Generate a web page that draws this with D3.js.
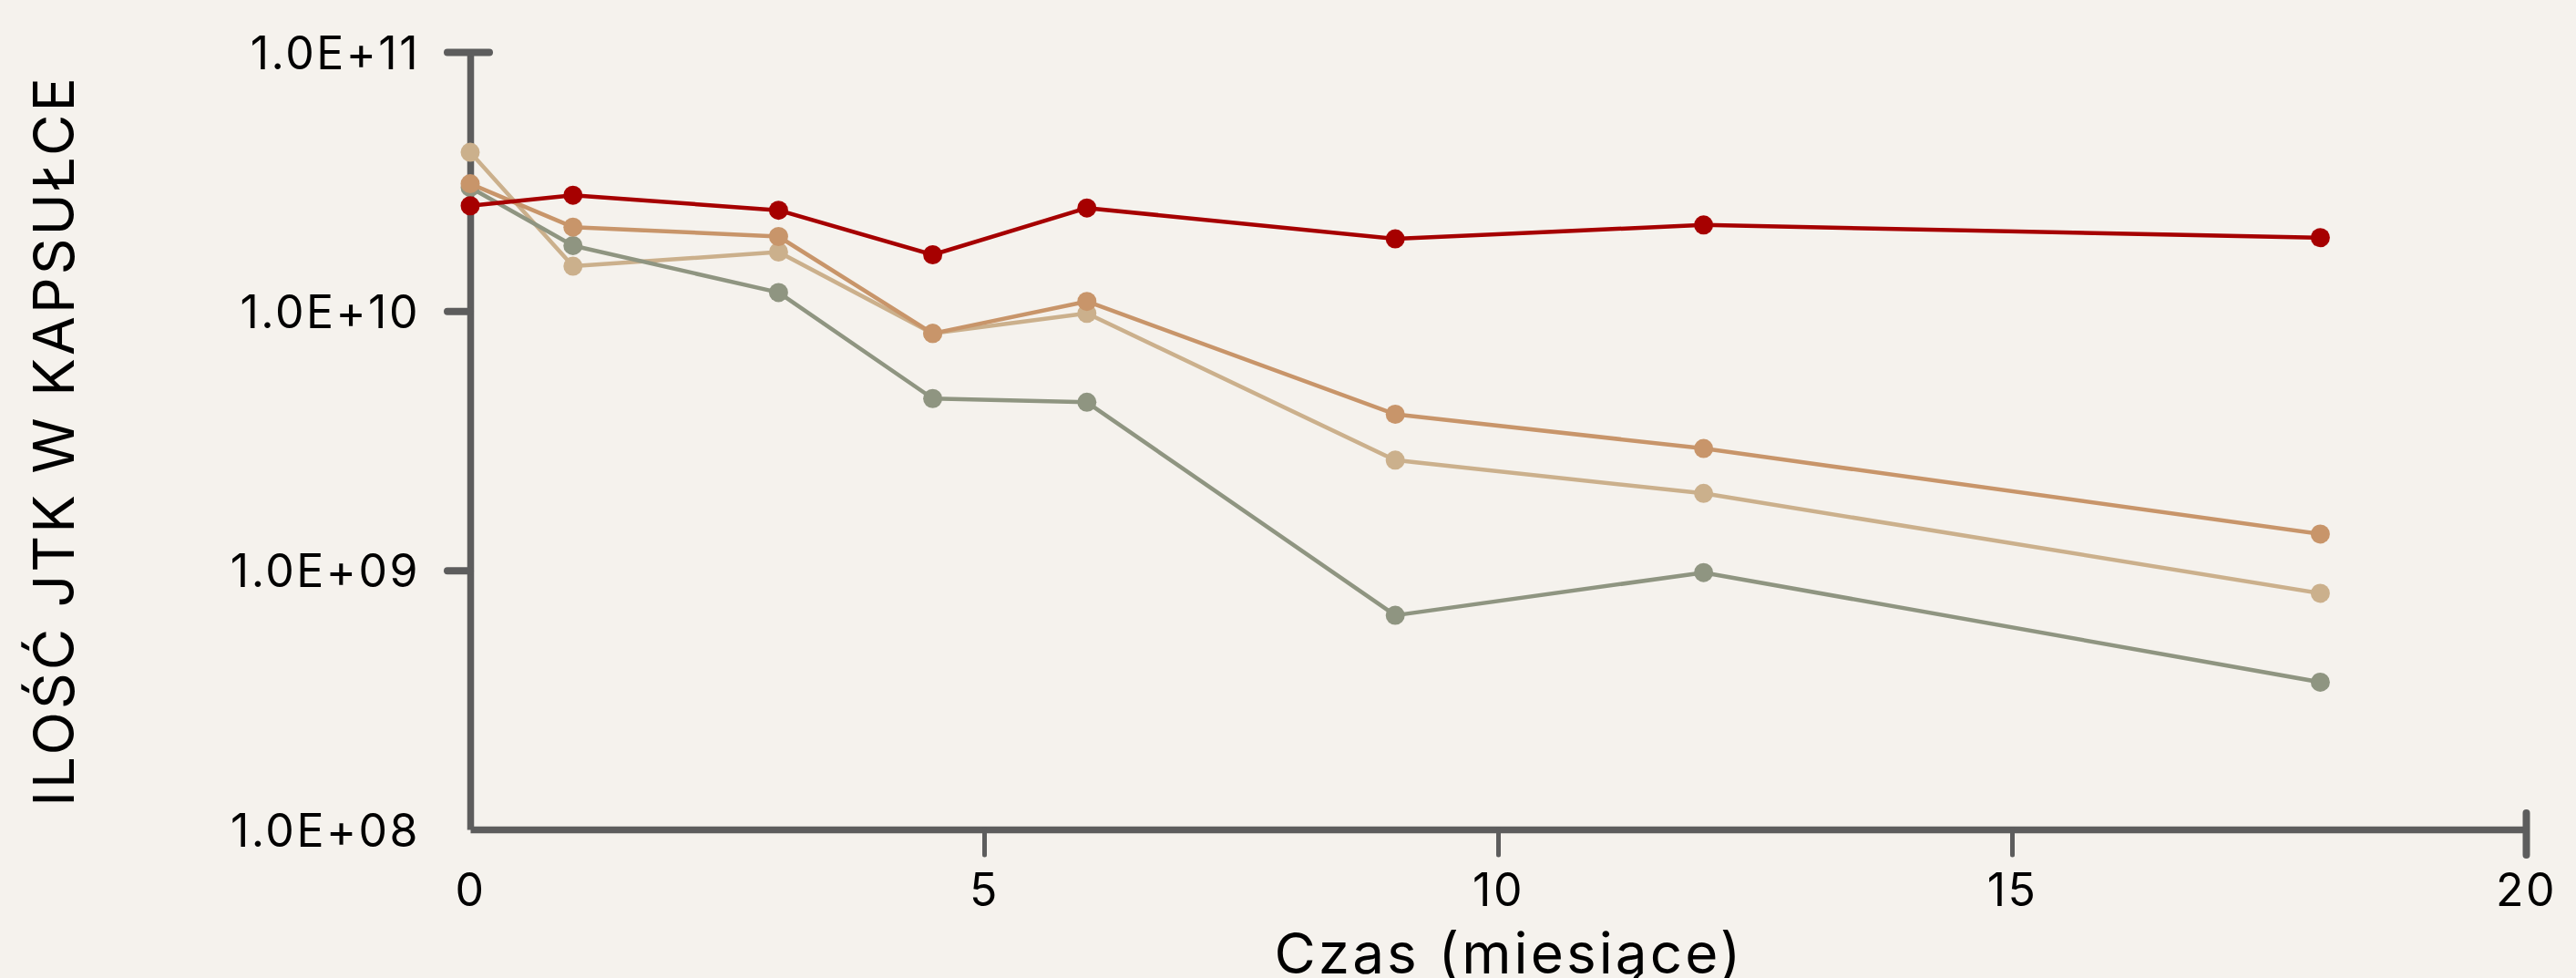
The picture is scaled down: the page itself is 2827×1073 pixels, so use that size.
<!DOCTYPE html>
<html>
<head>
<meta charset="utf-8">
<script src="https://cdn.jsdelivr.net/npm/d3@7"></script>
<style>
  html, body { margin: 0; padding: 0; background: #f5f2ed; }
  svg { display: block; }
  text { font-family: Inter, "Noto Sans", sans-serif; font-weight: 400; fill: #000; letter-spacing: 0.05em; }
</style>
</head>
<body>
<div id="chart"></div>
<script>
// months on the x axis
const months = [0, 1, 3, 4.5, 6, 9, 12, 18]

// series values (JTK per capsule)
const seriesNames = ["tan", "gray", "orange", "red"]
const tanValues = [4.1e10, 1.49e10, 1.69e10, 8.2e9, 9.8e9, 2.66e9, 1.98e9, 8.15e8]
const grayValues = [3.0e10, 1.79e10, 1.18e10, 4.6e9, 4.45e9, 6.7e8, 9.8e8, 3.7e8]
const orangeValues = [3.1e10, 2.11e10, 1.94e10, 8.2e9, 1.09e10, 4.0e9, 2.95e9, 1.38e9]
const redValues = [2.55e10, 2.8e10, 2.45e10, 1.65e10, 2.5e10, 1.9e10, 2.15e10, 1.92e10]

const seriesColors = ["#cbb08c", "#8f9581", "#c8956a", "#a60000"]

// tick values and labels
const yTickValues = [1e8, 1e9, 1e10, 1e11]
const yTickLabels = ["1.0E+08", "1.0E+09", "1.0E+10", "1.0E+11"]
const xTickValues = [0, 5, 10, 15, 20]

const yTitle = "ILOŚĆ JTK W KAPSUŁCE"
const xTitle = "Czas (miesiące)"

function drawChart() {
    //---------------- dimensions
    const dims = {
        width: 2827,
        height: 1073,
        margin: { top: 57, right: 55, bottom: 163, left: 516 }
    }
    dims.boundedWidth = dims.width - dims.margin.left - dims.margin.right
    dims.boundedHeight = dims.height - dims.margin.top - dims.margin.bottom

    const axisColor = "#5d5d5d"

    const svg = d3.select("#chart")
        .append("svg")
        .attr("width", dims.width)
        .attr("height", dims.height)

    svg.append("rect")
        .attr("width", dims.width)
        .attr("height", dims.height)
        .attr("fill", "#f5f2ed")

    const bounds = svg.append("g")
        .attr("transform", `translate(${dims.margin.left},${dims.margin.top})`)

    //---------------- scales
    const xScale = d3.scaleLinear()
        .domain([0, 20])
        .range([0, dims.boundedWidth])

    const yScale = d3.scaleLog()
        .domain([1e8, 1e11])
        .range([dims.boundedHeight, 0])

    //---------------- axes
    const yAxisGen = d3.axisLeft(yScale)
        .tickValues(yTickValues)
        .tickFormat((d, i) => yTickLabels[i])
        .tickSize(25)
        .tickSizeOuter(0)
        .tickPadding(30)

    const yAxis = bounds.append("g").call(yAxisGen)

    const xAxisGen = d3.axisBottom(xScale)
        .tickValues(xTickValues)
        .tickSize(28)
        .tickSizeOuter(0)
        .tickPadding(20)

    const xAxis = bounds.append("g")
        .attr("transform", `translate(0,${dims.boundedHeight})`)
        .call(xAxisGen)

    ;[yAxis, xAxis].forEach(ax => {
        ax.select(".domain")
            .attr("stroke", axisColor)
            .attr("stroke-width", 7.5)
            .attr("stroke-linejoin", "round")
        ax.selectAll(".tick line")
            .attr("stroke", axisColor)
            .attr("stroke-linecap", "round")
        ax.selectAll(".tick text")
            .attr("font-size", 50)
            .attr("fill", "#000")
    })

    yAxis.selectAll(".tick line")
        .attr("stroke-width", 8)
        .attr("x2", d => d === 1e11 ? 21 : -25)
        .attr("x1", d => d === 1e11 ? -25 : 0)
        .attr("display", d => d === 1e8 ? "none" : null)
    yAxis.selectAll(".tick text")
        .attr("dy", "0.36em")

    xAxis.selectAll(".tick line")
        .attr("stroke-width", d => d === 20 ? 8 : 5)
        .attr("y1", d => d === 20 ? -18 : 0)
        .attr("display", d => d === 0 ? "none" : null)

    // bring the y axis line over the x axis join
    yAxis.raise()

    //---------------- titles
    svg.append("text")
        .attr("transform", `translate(81,${dims.margin.top + dims.boundedHeight / 2}) rotate(-90)`)
        .attr("text-anchor", "middle")
        .attr("font-size", 62)
        .text(yTitle)

    svg.append("text")
        .attr("x", dims.margin.left + dims.boundedWidth / 2 + 12)
        .attr("y", 1068)
        .attr("text-anchor", "middle")
        .attr("font-size", 62)
        .text(xTitle)

    //---------------- lines and markers
    const allValues = [tanValues, grayValues, orangeValues, redValues]
    const series = seriesNames.map((name, i) => ({
        name,
        color: seriesColors[i],
        points: months.map((m, j) => ({ x: m, y: allValues[i][j] }))
    }))

    const lineGen = d3.line()
        .x(d => xScale(d.x))
        .y(d => yScale(d.y))

    const groups = bounds.selectAll(".series")
        .data(series)
        .join("g")
        .attr("class", "series")

    groups.append("path")
        .attr("d", d => lineGen(d.points))
        .attr("fill", "none")
        .attr("stroke", d => d.color)
        .attr("stroke-width", 4.5)
        .attr("stroke-linejoin", "round")

    groups.selectAll("circle")
        .data(d => d.points.map(p => ({ ...p, color: d.color })))
        .join("circle")
        .attr("cx", d => xScale(d.x))
        .attr("cy", d => yScale(d.y))
        .attr("r", 10.5)
        .attr("fill", d => d.color)
}
drawChart()
</script>
</body>
</html>
